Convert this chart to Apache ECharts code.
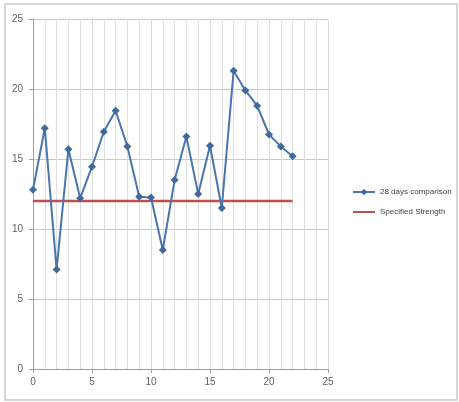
<!DOCTYPE html>
<html><head><meta charset="utf-8">
<script src="https://cdn.jsdelivr.net/npm/echarts@6/dist/echarts.min.js"></script>
<style>html,body{margin:0;padding:0;background:#fff}#c{width:459px;height:402px}</style>
</head><body><div id="c"></div>
<script>
const days = [0,1,2,3,4,5,6,7,8,9,10,11,12,13,14,15,16,17,18,19,20,21,22];
const comparison = [12.8,17.2,7.1,15.7,12.2,14.45,16.95,18.45,15.9,12.3,12.25,8.5,13.5,16.6,12.5,15.95,11.5,21.3,19.9,18.8,16.75,15.9,15.2];
const specified = [12,12,12,12,12,12,12,12,12,12,12,12,12,12,12,12,12,12,12,12,12,12,12];
const seriesNames = ['28 days comparison','Specified Strength'];

const chart = echarts.init(document.getElementById('c'));
const font = 'Liberation Sans Narrow, Liberation Sans, sans-serif';
chart.setOption({
  animation:false,
  graphic:[{type:'rect',shape:{x:5,y:4,width:452,height:396},style:{fill:'none',stroke:'#c8c8c8',lineWidth:1.5},z:-1}],
  grid:{left:33,right:131,top:19,bottom:33},
  legend:{orient:'vertical',left:347,top:183,itemGap:12,itemWidth:22,itemHeight:8,
    textStyle:{fontFamily:font,fontSize:8,color:'#404040'},
    data:[seriesNames[0],{name:seriesNames[1],itemStyle:{opacity:0}}]},
  xAxis:{type:'value',min:0,max:25,interval:5,
    axisLine:{lineStyle:{color:'#a0a0a0'}},
    axisTick:{show:true,length:4,lineStyle:{color:'#a0a0a0'}},
    axisLabel:{fontFamily:font,fontSize:10,color:'#606060',margin:8},
    splitLine:{show:true,lineStyle:{color:'#dcdcdc'}},
    minorTick:{show:false,splitNumber:5},
    minorSplitLine:{show:true,lineStyle:{color:'#e0e0e0'}}},
  yAxis:{type:'value',min:0,max:25,interval:5,
    axisLine:{show:true,lineStyle:{color:'#a0a0a0'}},
    axisTick:{show:true,length:4,lineStyle:{color:'#a0a0a0'}},
    axisLabel:{fontFamily:font,fontSize:10,color:'#606060',margin:10},
    splitLine:{show:true,lineStyle:{color:'#c8c8c8'}}},
  series:[
    {name:seriesNames[0],type:'line',data:days.map((d,i)=>[d,comparison[i]]),
     symbol:'diamond',symbolSize:8,color:'#4a76b0',
     lineStyle:{width:2,color:'#4a76b0'},itemStyle:{color:'#40699e'},z:3},
    {name:seriesNames[1],type:'line',data:days.map((d,i)=>[d,specified[i]]),
     symbol:'none',showSymbol:false,color:'#c0504d',
     lineStyle:{width:2.5,color:'#c0504d'},z:2}
  ]
});
</script></body></html>
